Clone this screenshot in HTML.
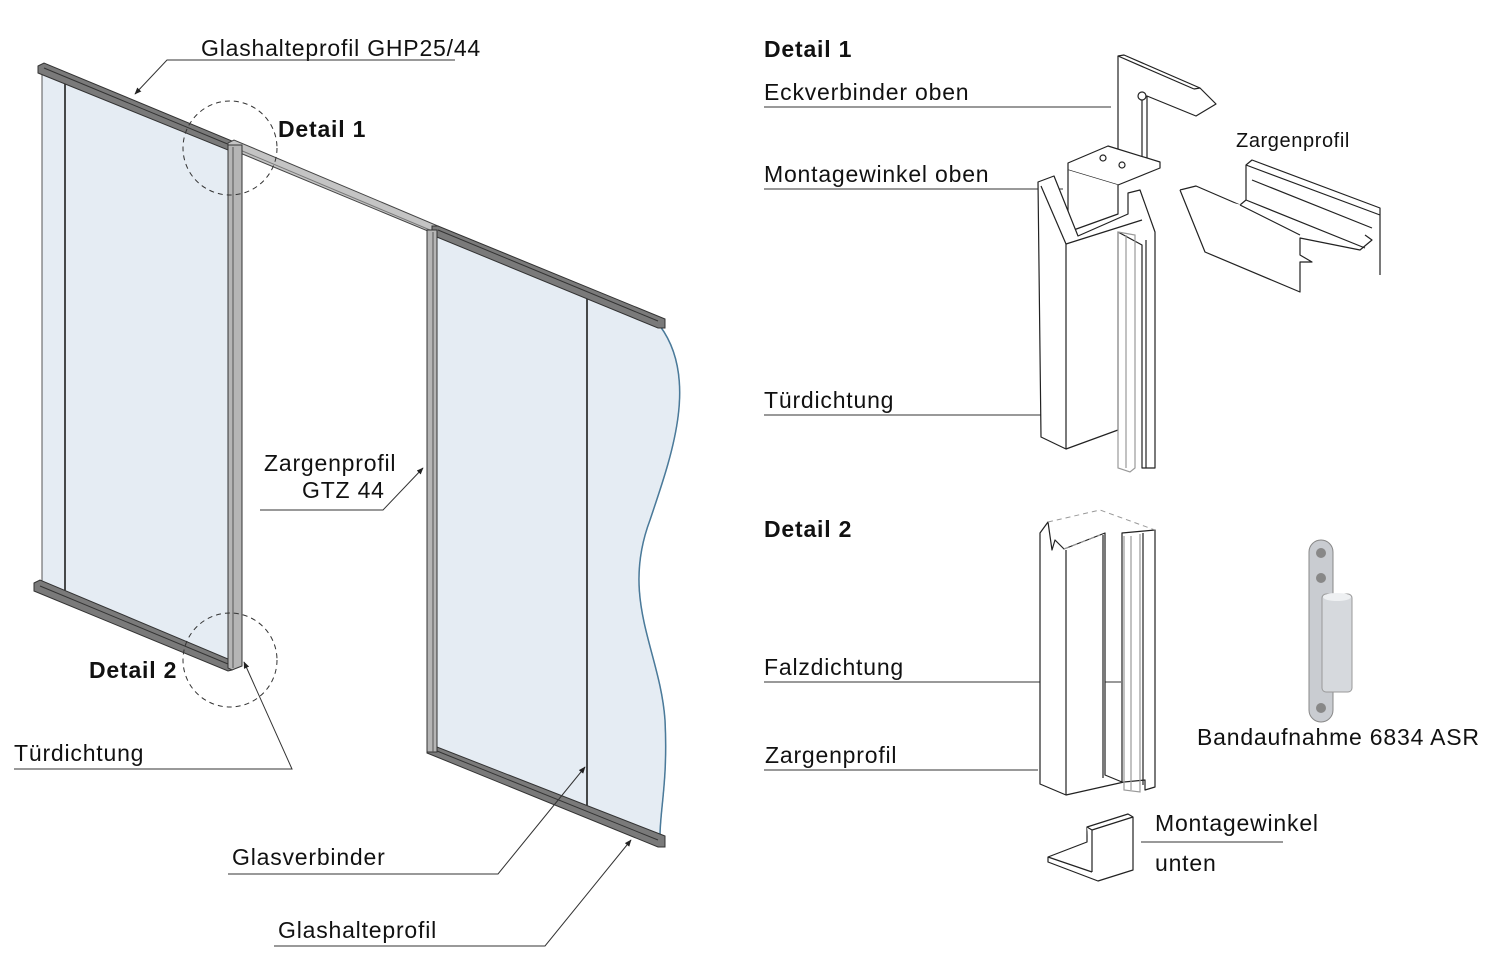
<!DOCTYPE html>
<html><head><meta charset="utf-8"><style>
html,body{margin:0;padding:0;background:#fff;}
svg{display:block;}
text{font-family:"Liberation Sans",Arial,sans-serif;fill:#111;letter-spacing:0.8px;}
</style></head><body>
<svg width="1487" height="956" viewBox="0 0 1487 956" xmlns="http://www.w3.org/2000/svg">
<defs>
<marker id="ar" viewBox="0 0 10 10" refX="9" refY="5" markerWidth="7" markerHeight="7" orient="auto"><path d="M0,1 L10,5 L0,9 z" fill="#222"/></marker>
</defs>
<polygon points="42,72 228,148 228,662 42,585" fill="#e5ecf3" stroke="#555" stroke-width="1"/>
<path d="M436,234 L660,326 C700,380 670,460 650,520 C620,600 660,650 665,720 C668,780 660,810 660,836 L436,748 Z" fill="#e5ecf3" stroke="#555" stroke-width="1"/>
<path d="M660,326 C700,380 670,460 650,520 C620,600 660,650 665,720 C668,780 660,810 660,836" fill="none" stroke="#4a7a9a" stroke-width="1.5"/>
<line x1="65" y1="80" x2="65" y2="593" stroke="#111" stroke-width="1.5"/>
<line x1="587" y1="298" x2="587" y2="808" stroke="#111" stroke-width="1.5"/>
<polygon points="38,66 44,63 232,141 228,150 38,73" fill="#7a7a7a" stroke="#333" stroke-width="1"/>
<line x1="44" y1="68" x2="230" y2="145" stroke="#333" stroke-width="1"/>
<polygon points="228,143 234,140 438,226 435,234 228,148" fill="#c4c4c4" stroke="#444" stroke-width="1"/>
<line x1="240" y1="150" x2="430" y2="230" stroke="#777" stroke-width="1"/>
<polygon points="432,226 438,226 665,319 665,328 658,328 432,235" fill="#7a7a7a" stroke="#333" stroke-width="1"/>
<line x1="438" y1="230" x2="658" y2="321" stroke="#333" stroke-width="1"/>
<polygon points="34,583 40,580 228,659 232,670 228,671 34,591" fill="#7a7a7a" stroke="#333" stroke-width="1"/>
<line x1="40" y1="586" x2="228" y2="664" stroke="#333" stroke-width="1"/>
<polygon points="427,748 437,747 665,836 665,847 658,847 427,753" fill="#7a7a7a" stroke="#333" stroke-width="1"/>
<line x1="437" y1="751" x2="658" y2="840" stroke="#333" stroke-width="1"/>
<polygon points="228,145 242,145 242,666 232,670 228,668" fill="#b5b5b5" stroke="#333" stroke-width="1"/>
<line x1="233" y1="147" x2="233" y2="668" stroke="#555" stroke-width="1"/>
<polygon points="427,230 437,230 437,752 427,752" fill="#b5b5b5" stroke="#333" stroke-width="1"/>
<line x1="433" y1="232" x2="433" y2="752" stroke="#555" stroke-width="1"/>
<circle cx="230" cy="148" r="47" fill="none" stroke="#333" stroke-width="1" stroke-dasharray="5,4"/>
<circle cx="230" cy="660" r="47" fill="none" stroke="#333" stroke-width="1" stroke-dasharray="5,4"/>
<text x="201" y="56" font-size="23">Glashalteprofil GHP25/44</text>
<polyline points="455,60 167,60 135,94" fill="none" stroke="#333" stroke-width="1" marker-end="url(#ar)"/>
<text x="278" y="137" font-size="23" font-weight="bold">Detail 1</text>
<text x="89" y="678" font-size="23" font-weight="bold">Detail 2</text>
<text x="264" y="471" font-size="23">Zargenprofil</text>
<text x="302" y="498" font-size="23">GTZ 44</text>
<polyline points="260,510 383,510 423,468" fill="none" stroke="#333" stroke-width="1" marker-end="url(#ar)"/>
<text x="14" y="761" font-size="23">Türdichtung</text>
<polyline points="14,769 292,769 244,662" fill="none" stroke="#333" stroke-width="1" marker-end="url(#ar)"/>
<text x="232" y="865" font-size="23">Glasverbinder</text>
<polyline points="228,874 498,874 585,767" fill="none" stroke="#333" stroke-width="1" marker-end="url(#ar)"/>
<text x="278" y="938" font-size="23">Glashalteprofil</text>
<polyline points="274,946 545,946 631,840" fill="none" stroke="#333" stroke-width="1" marker-end="url(#ar)"/>
<text x="764" y="57" font-size="23" font-weight="bold">Detail 1</text>
<text x="764" y="100" font-size="23">Eckverbinder oben</text>
<line x1="764" y1="107" x2="1111" y2="107" stroke="#333" stroke-width="1"/>
<text x="764" y="182" font-size="23">Montagewinkel oben</text>
<line x1="764" y1="189" x2="1063" y2="189" stroke="#333" stroke-width="1"/>
<text x="764" y="408" font-size="23">Türdichtung</text>
<line x1="764" y1="415" x2="1112" y2="415" stroke="#333" stroke-width="1"/>
<text x="1236" y="147" font-size="20" style="letter-spacing:0.6px">Zargenprofil</text>
<text x="764" y="537" font-size="23" font-weight="bold">Detail 2</text>
<text x="764" y="675" font-size="23">Falzdichtung</text>
<line x1="764" y1="682" x2="1121" y2="682" stroke="#333" stroke-width="1"/>
<text x="765" y="763" font-size="23">Zargenprofil</text>
<line x1="764" y1="770" x2="1038" y2="770" stroke="#333" stroke-width="1"/>
<text x="1155" y="831" font-size="23">Montagewinkel</text>
<line x1="1141" y1="842" x2="1283" y2="842" stroke="#333" stroke-width="1"/>
<text x="1155" y="871" font-size="23">unten</text>
<text x="1197" y="745" font-size="23">Bandaufnahme 6834 ASR</text>
<g fill="#fff" stroke="#222" stroke-width="1.2" stroke-linejoin="round">
<path d="M1118,56 L1124,55 L1200,88 L1216,104 L1196,116 L1147,96 L1147,162 L1118,162 Z"/>
<line x1="1118" y1="56" x2="1194" y2="89"/>
<line x1="1194" y1="89" x2="1200" y2="88"/>
<circle cx="1142" cy="96" r="4"/>
<line x1="1142" y1="100" x2="1142" y2="162"/>
<path d="M1068,163 L1108,146 L1160,162 L1160,168 L1118,185 L1068,170 Z"/>
<circle cx="1103" cy="158" r="3"/><circle cx="1122" cy="165" r="3"/>
<path d="M1068,170 L1068,232 L1118,214 L1118,185"/>
<path d="M1038,182 L1054,176 L1078,236 L1128,214 L1128,193 L1140,190 L1155,232 L1155,468 L1142,468 L1142,245 L1118,232 L1118,430 L1066,449 L1041,437 Z"/>
<line x1="1066" y1="244" x2="1066" y2="449"/>
<line x1="1041" y1="186" x2="1066" y2="244"/>
<line x1="1066" y1="244" x2="1142" y2="220"/>
<line x1="1146" y1="240" x2="1146" y2="468"/>
</g>
<g fill="none" stroke="#999" stroke-width="1.2">
<path d="M1118,232 L1118,468 L1130,472 L1135,468 L1135,235 Z"/>
<line x1="1126" y1="235" x2="1126" y2="468"/>
</g>
<g fill="#fff" stroke="#222" stroke-width="1.2" stroke-linejoin="round">
<path d="M1180,190 L1196,186 L1240,205 L1246,200 L1246,165 L1252,160 L1380,208 L1380,275"/>
<path d="M1180,190 L1205,252 L1300,292 L1300,262 L1312,262 L1300,255 L1300,238 L1360,250 L1372,240 L1365,235"/>
<path d="M1246,165 L1380,215 M1252,180 L1372,228 M1246,200 L1365,248 M1240,205 L1300,235"/>
</g>
<g fill="#fff" stroke="#222" stroke-width="1.2" stroke-linejoin="round">
<path d="M1040,533 L1048,522 L1052,550 L1055,540 L1064,549 L1105,533 L1105,775 L1122,782 L1122,533 L1155,530 L1155,787 L1145,790 L1145,780 L1124,782 L1066,795 L1040,784 Z"/>
<line x1="1066" y1="550" x2="1066" y2="795"/>
<line x1="1103" y1="535" x2="1103" y2="778"/>
<line x1="1143" y1="533" x2="1143" y2="785"/>
</g>
<g fill="none" stroke="#999" stroke-width="1.2"><path d="M1124,536 L1124,790 L1140,792 L1140,534 M1131,536 L1131,790"/></g>
<path d="M1048,522 L1100,510 L1155,530 M1064,549 L1100,535" fill="none" stroke="#999" stroke-width="1" stroke-dasharray="5,4"/>
<g fill="#fff" stroke="#222" stroke-width="1.2" stroke-linejoin="round">
<path d="M1048,857 L1087,842 L1087,827 L1128,814 L1133,817 L1133,870 L1098,881 L1048,862 Z"/>
<path d="M1087,827 L1092,830 L1092,872 M1092,830 L1133,817"/>
<path d="M1048,857 L1092,872"/>
</g>
<rect x="1309" y="540" width="24" height="182" rx="12" fill="#c9ccd1" stroke="#888"/>
<circle cx="1321" cy="553" r="5" fill="#888"/><circle cx="1321" cy="578" r="5" fill="#888"/><circle cx="1321" cy="708" r="5" fill="#888"/>
<rect x="1322" y="594" width="30" height="98" rx="4" fill="#d6d9dd" stroke="#999"/>
<ellipse cx="1337" cy="597" rx="14" ry="4" fill="#eef0f2"/>
</svg>
</body></html>
